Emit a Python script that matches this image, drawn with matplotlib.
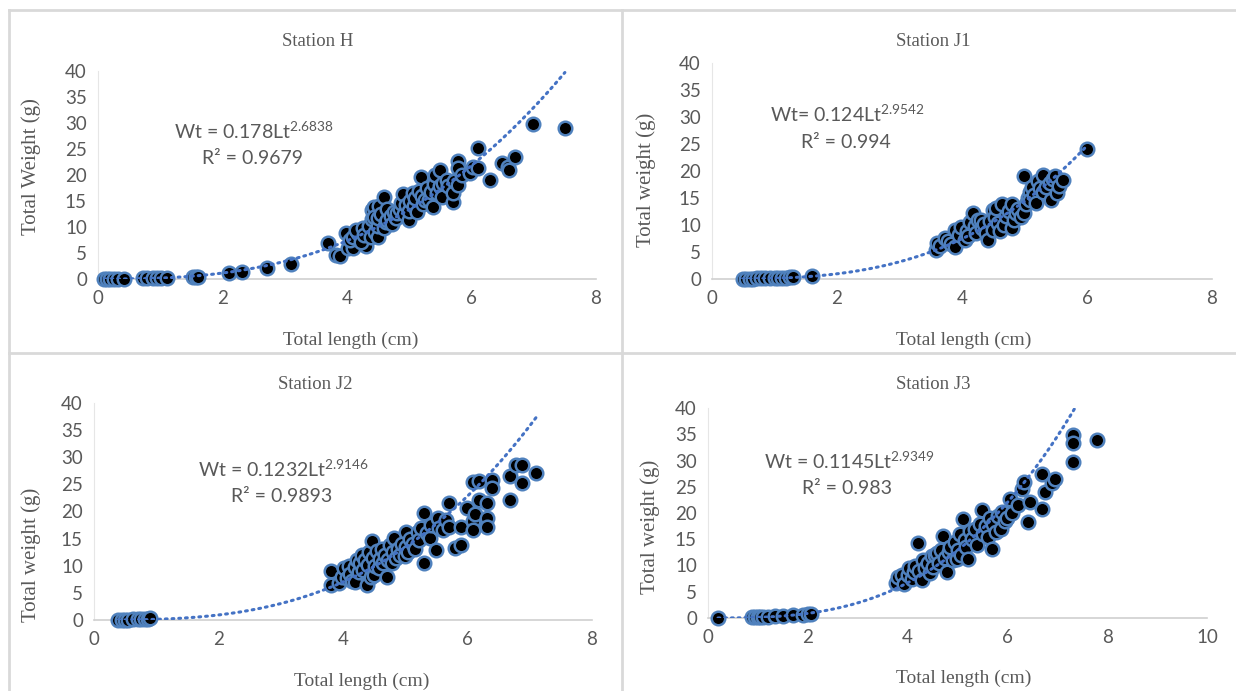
import numpy as np
from matplotlib import pyplot as plt
from matplotlib.lines import Line2D

# ---------------- data ----------------
# Station H
H_len = [0.10, 0.15, 0.20, 0.25, 0.32, 0.41, 0.73, 0.78, 0.89, 0.95, 1.01, 1.11, 1.52, 1.58, 1.61,
         2.11, 2.31, 2.71, 3.10,
         3.70, 3.83, 3.89, 4.02, 4.10, 4.30, 3.99, 4.05, 4.10, 4.18, 4.15, 4.22, 4.25, 4.28, 4.35,
         4.38, 4.40, 4.40, 4.43, 4.43, 4.45, 4.49, 4.49, 4.50, 4.52, 4.55, 4.59, 4.60, 4.62, 4.65,
         4.65, 4.70, 4.72, 4.75, 4.78, 4.81, 4.85, 4.87, 4.90, 4.92, 4.95, 5.00, 5.00, 5.02, 5.06,
         5.08, 5.10, 5.12, 5.15, 5.19, 5.20, 5.22, 5.25, 5.28, 5.32, 5.35, 5.38, 5.40, 5.41, 5.45,
         5.50, 5.50, 5.52, 5.55, 5.60, 5.63, 5.70, 5.70, 5.72, 5.79, 5.79, 5.79, 5.85, 5.98, 6.02,
         6.10, 6.10, 6.30, 6.49, 6.58, 6.61, 6.70, 6.99, 7.50]
H_wt = [0.0, 0.0, 0.0, 0.0, 0.0, 0.0, 0.1, 0.1, 0.1, 0.15, 0.2, 0.2, 0.4, 0.45, 0.4,
        1.1, 1.3, 2.1, 2.8,
        7.0, 4.7, 4.4, 5.9, 5.9, 6.3, 8.8, 7.5, 8.0, 8.8, 9.5, 7.2, 9.8, 8.5, 10.2,
        8.0, 11.5, 13.2, 13.9, 12.0, 9.0, 8.0, 10.1, 11.8, 14.0, 12.5, 15.8, 9.8, 11.0, 11.4,
        13.5, 12.2, 10.5, 12.8, 11.8, 12.7, 13.5, 14.6, 16.3, 12.5, 14.2, 11.4, 13.0, 15.0, 16.5,
        14.0, 15.5, 12.8, 17.0, 19.7, 16.0, 14.5, 15.2, 17.5, 15.2, 16.8, 13.9, 18.2, 20.0, 16.5,
        21.0, 17.8, 15.8, 18.5, 19.0, 17.8, 14.9, 16.5, 18.8, 22.6, 21.3, 18.1, 20.0, 20.3, 21.5,
        25.1, 21.3, 19.0, 22.4, 21.5, 21.0, 23.5, 29.8, 29.1]

# Station J1
J1_len = [0.49, 0.55, 0.60, 0.66, 0.72, 0.78, 0.85, 0.92, 1.00, 1.06, 1.12, 1.18, 1.25, 1.30, 1.60,
          3.59, 3.60, 3.65, 3.72, 3.78, 3.82, 3.89, 3.89, 3.95, 3.98, 4.04, 4.08, 4.10, 4.12, 4.17,
          4.20, 4.22, 4.25, 4.30, 4.32, 4.35, 4.39, 4.42, 4.45, 4.49, 4.49, 4.52, 4.55, 4.58, 4.60,
          4.64, 4.67, 4.71, 4.75, 4.80, 4.80, 4.83, 4.86, 4.90, 4.95, 4.99, 4.99, 5.02, 5.05, 5.08,
          5.08, 5.12, 5.15, 5.18, 5.21, 5.25, 5.30, 5.30, 5.35, 5.40, 5.43, 5.45, 5.49, 5.52, 5.55,
          5.62, 6.00]
J1_wt = [0.0, 0.0, 0.05, 0.05, 0.1, 0.1, 0.1, 0.15, 0.2, 0.2, 0.2, 0.25, 0.3, 0.3, 0.5,
         5.3, 6.7, 6.2, 7.6, 7.0, 6.5, 9.1, 6.0, 8.2, 9.6, 7.3, 8.8, 7.9, 10.5, 12.2,
         9.8, 8.5, 11.0, 11.0, 9.5, 10.2, 8.5, 7.3, 10.8, 12.8, 9.1, 11.5, 13.2, 10.4, 8.8,
         13.8, 10.0, 11.6, 12.5, 9.4, 13.8, 11.0, 12.2, 13.0, 11.5, 12.2, 19.0, 13.8, 15.0, 16.2,
         14.7, 17.0, 15.5, 14.1, 18.1, 16.8, 19.3, 16.2, 17.0, 17.8, 14.7, 18.5, 19.0, 15.9, 17.2,
         18.4, 24.0]

# Station J2
J2_len = [0.39, 0.45, 0.50, 0.55, 0.62, 0.70, 0.76, 0.82, 0.86, 0.90,
          3.80, 3.80, 3.94, 3.98, 4.02, 4.06, 4.10, 4.12, 4.15, 4.19, 4.20, 4.22, 4.25, 4.28, 4.30,
          4.32, 4.35, 4.38, 4.40, 4.42, 4.45, 4.47, 4.48, 4.50, 4.52, 4.55, 4.58, 4.60, 4.62, 4.65,
          4.68, 4.70, 4.72, 4.76, 4.78, 4.80, 4.82, 4.85, 4.88, 4.92, 4.95, 5.00, 5.01, 5.02, 5.05,
          5.08, 5.12, 5.15, 5.20, 5.22, 5.25, 5.30, 5.30, 5.35, 5.39, 5.42, 5.49, 5.52, 5.55, 5.60,
          5.65, 5.71, 5.71, 5.80, 5.90, 5.90, 5.99, 6.09, 6.09, 6.09, 6.12, 6.18, 6.18, 6.31, 6.31,
          6.31, 6.40, 6.40, 6.69, 6.69, 6.78, 6.88, 6.88, 7.10]
J2_wt = [0.0, 0.0, 0.05, 0.05, 0.1, 0.1, 0.15, 0.2, 0.25, 0.3,
         6.5, 9.0, 6.8, 8.0, 9.5, 7.7, 10.0, 8.5, 7.2, 7.0, 9.8, 11.0, 8.8, 10.5, 12.0,
         9.2, 11.0, 6.5, 10.2, 12.5, 8.0, 14.5, 11.5, 8.3, 10.0, 12.8, 9.5, 11.2, 13.0, 10.5,
         12.0, 8.0, 11.0, 13.8, 10.5, 12.5, 15.1, 11.5, 13.0, 12.0, 14.0, 11.8, 16.3, 13.5, 12.5,
         15.0, 14.0, 13.0, 16.3, 14.8, 17.0, 10.5, 19.7, 16.0, 15.1, 17.5, 12.9, 18.8, 17.0, 16.5,
         18.5, 21.5, 17.2, 13.2, 13.8, 17.2, 20.6, 25.5, 18.2, 16.6, 19.5, 25.7, 22.2, 21.5, 18.8,
         17.2, 25.8, 24.3, 26.5, 22.2, 28.6, 28.6, 25.2, 27.1]

# Station J3
J3_len = [0.20, 0.88, 0.95, 1.00, 1.05, 1.10, 1.20, 1.35, 1.50, 1.70, 1.90, 2.00, 2.07,
          3.76, 3.80, 3.88, 3.92, 4.00, 4.02, 4.08, 4.12, 4.15, 4.20, 4.22, 4.28, 4.30, 4.35, 4.40,
          4.45, 4.48, 4.51, 4.55, 4.59, 4.62, 4.66, 4.71, 4.74, 4.79, 4.82, 4.85, 4.90, 4.95, 4.99,
          5.02, 5.05, 5.08, 5.11, 5.15, 5.18, 5.22, 5.25, 5.30, 5.35, 5.40, 5.45, 5.50, 5.52, 5.58,
          5.62, 5.65, 5.70, 5.72, 5.78, 5.82, 5.88, 5.90, 5.95, 6.00, 6.05, 6.10, 6.21, 6.30, 6.33,
          6.41, 6.45, 6.69, 6.69, 6.76, 6.90, 6.96, 7.32, 7.32, 7.32, 7.79]
J3_wt = [0.0, 0.1, 0.15, 0.2, 0.2, 0.2, 0.25, 0.3, 0.4, 0.5, 0.6, 0.7, 0.8,
         6.7, 7.8, 8.1, 6.5, 8.1, 9.5, 7.5, 8.8, 10.0, 14.3, 9.0, 7.2, 11.0, 9.5, 10.5,
         8.5, 11.8, 9.7, 12.0, 12.3, 10.5, 13.0, 15.6, 11.5, 8.8, 12.5, 13.5, 11.0, 14.5, 11.3,
         13.0, 16.0, 12.0, 18.9, 14.8, 13.5, 11.3, 16.5, 15.0, 17.0, 14.0, 18.0, 20.6, 16.0, 17.5,
         15.5, 19.0, 13.2, 18.0, 16.4, 19.5, 17.0, 20.2, 18.5, 19.0, 22.7, 20.0, 21.5, 24.5, 25.9,
         18.2, 22.1, 27.5, 20.7, 24.0, 25.8, 26.5, 34.9, 33.3, 29.7, 34.0]

titles = ['Station H', 'Station J1', 'Station J2', 'Station J3']
ylabels = ['Total Weight (g)', 'Total weight (g)', 'Total weight (g)', 'Total weight (g)']
coef_a = [0.178, 0.124, 0.1232, 0.1145]
coef_b = [2.6838, 2.9542, 2.9146, 2.9349]
eq_prefix = ['Wt = ', 'Wt= ', 'Wt = ', 'Wt = ']
r2_text = ['0.9679', '0.994', '0.9893', '0.983']
xmax = [8, 8, 8, 10]

lengths = [H_len, J1_len, J2_len, J3_len]
weights = [H_wt, J1_wt, J2_wt, J3_wt]

# ---------------- layout (pixels of the 1236x691 picture) ----------------
W, H = 1236, 691
plt.rcParams['mathtext.fontset'] = 'custom'
plt.rcParams['mathtext.rm'] = 'Lato'
grey = '#595959'
sans = 'Lato'
serif = 'Liberation Serif'

fig = plt.figure(figsize=(W / 100, H / 100), dpi=100)

# axes box: x0, x1 (left/right), ytop, ybottom
boxes = [(98, 596, 71, 279), (712, 1212, 63, 279), (94, 592, 403, 620), (708, 1207, 408, 618)]
title_pos = [(318, 42), (933, 42), (315, 384), (933, 384)]
ylab_pos = [(31, 167), (646, 180), (31, 555), (650, 527)]
xlab_pos = [(351, 340), (964, 340), (362, 681), (964, 678)]
eq_pos = [(254, 131), (847, 114), (284, 469), (849, 461)]
r2_pos = [(252, 159), (846, 142), (282, 497), (847, 489)]

for i in range(4):
    x0, x1, yt, yb = boxes[i]
    ax = fig.add_axes([x0 / W, 1 - yb / H, (x1 - x0) / W, (yb - yt) / H])
    ax.set_xlim(0, xmax[i])
    ax.set_ylim(0, 40)
    ax.set_yticks(range(0, 41, 5))
    ax.set_xticks(range(0, xmax[i] + 1, 2))
    for s in ['top', 'right']:
        ax.spines[s].set_visible(False)
    ax.spines['bottom'].set_color('#d0d0d0')
    ax.spines['left'].set_color('#e6e6e6')
    ax.spines['bottom'].set_linewidth(1.2)
    ax.tick_params(length=0, labelsize=13.5, labelcolor=grey, pad=8)
    for lab in ax.get_xticklabels() + ax.get_yticklabels():
        lab.set_fontfamily(sans)

    x = np.array(lengths[i])
    y = np.array(weights[i])
    ax.scatter(x, y, s=95, c='black', edgecolors='#4f81bd', linewidths=1.8, zorder=3, clip_on=False)

    # power trendline from the fitted coefficients
    xt = np.linspace(x.min(), x.max(), 200)
    ax.plot(xt, coef_a[i] * xt ** coef_b[i], color='#4472c4', lw=2.2,
            linestyle=(0, (0.6, 1.6)), dash_capstyle='round', zorder=4)

    fig.text(title_pos[i][0] / W, 1 - title_pos[i][1] / H, titles[i], ha='center', va='center',
             fontsize=13.5, family=serif, color=grey)
    fig.text(ylab_pos[i][0] / W, 1 - ylab_pos[i][1] / H, ylabels[i], ha='center', va='center',
             rotation=90, fontsize=15, family=serif, color=grey)
    fig.text(xlab_pos[i][0] / W, 1 - xlab_pos[i][1] / H, 'Total length (cm)', ha='center', va='center',
             fontsize=14, family=serif, color=grey)
    eq = eq_prefix[i] + str(coef_a[i]) + 'Lt$^{\\mathrm{' + str(coef_b[i]) + '}}$'
    fig.text(eq_pos[i][0] / W, 1 - eq_pos[i][1] / H, eq, ha='center', va='center',
             fontsize=14, family=sans, color=grey)
    fig.text(r2_pos[i][0] / W, 1 - r2_pos[i][1] / H, 'R² = ' + r2_text[i], ha='center', va='center',
             fontsize=14, family=sans, color=grey)

# panel borders
bc = '#d9d9d9'
fig.add_artist(Line2D([9 / W, 1], [1 - 10 / H, 1 - 10 / H], color=bc, lw=2))
fig.add_artist(Line2D([9 / W, 9 / W], [0, 1 - 10 / H], color=bc, lw=2))
fig.add_artist(Line2D([622 / W, 622 / W], [0, 1 - 10 / H], color=bc, lw=2))
fig.add_artist(Line2D([9 / W, 1], [1 - 353 / H, 1 - 353 / H], color=bc, lw=2))

fig.savefig('out.png', dpi=100)
